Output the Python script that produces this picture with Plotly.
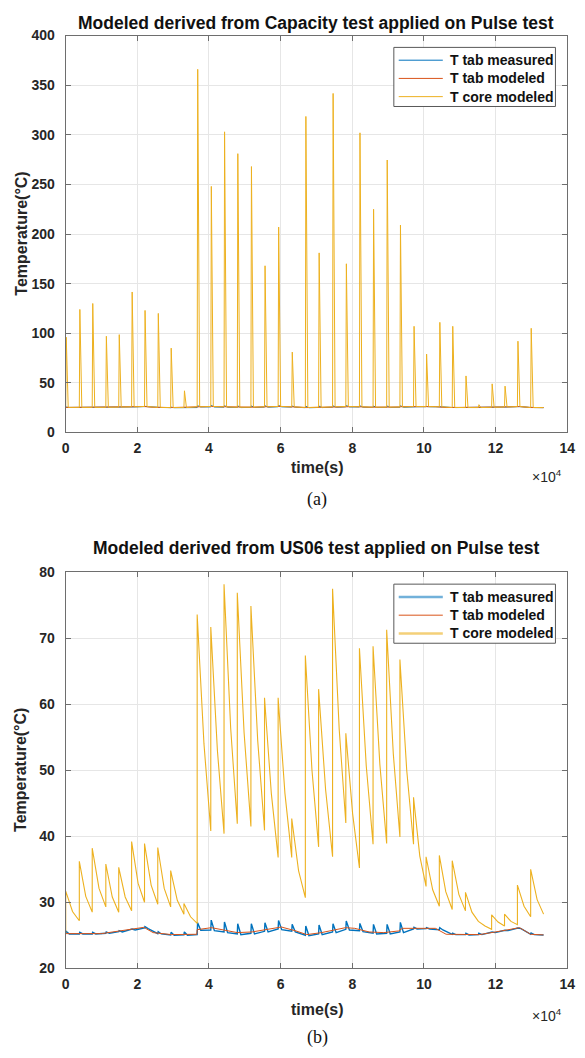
import plotly.graph_objects as go

# ---------------- data (time in units of 1e4 s) ----------------
PULSE_T = [0.00, 0.38, 0.74, 1.12, 1.48, 1.84, 2.20, 2.57, 2.93, 3.30,
           3.67, 4.05, 4.42, 4.79, 5.17, 5.55, 5.93, 6.31, 6.69, 7.06,
           7.45, 7.82, 8.20, 8.58, 8.96, 9.33, 9.71, 10.06, 10.43, 10.79,
           11.16, 11.52, 11.89, 12.25, 12.61, 12.98]
T_END = 13.34

# (a) core temperature, model from capacity test: spike peaks and base level
TOP_CORE_PEAK = [96, 124, 130, 97, 98.6, 141.6, 123, 120, 85, 42,
                 366, 248, 303, 281, 268, 168, 207, 81, 318.5, 181,
                 341.7, 170, 302, 225, 274.6, 209, 107, 79, 111, 107,
                 57, 28, 49, 46.7, 92, 105]
TOP_CORE_BASE = [25.3, 25.3, 25.3, 25.4, 25.6, 25.9, 26.2, 25.3, 25.1, 25.1,
                 25.9, 26.2, 25.8, 25.4, 25.5, 25.9, 26.2, 25.8, 25.2, 25.4,
                 25.8, 26.2, 25.9, 25.5, 25.5, 25.7, 26.1, 26.1, 25.9, 25.2,
                 25.1, 25.1, 25.4, 25.7, 26.1, 25.2, 25.1]

# (b) core temperature, model from US06 test: start, peak, mid-decay, end-of-cycle values
BOT_CORE_START = 25.3
BOT_CORE_PEAK = [31.7, 36.2, 38.2, 35.8, 35.3, 39.2, 38.9, 38.3, 34.8, 29.8,
                 73.6, 71.7, 78.2, 76.9, 74.9, 61.0, 61.0, 42.7, 67.4, 62.3,
                 77.5, 55.6, 68.5, 68.8, 71.3, 66.8, 45.9, 36.9, 37.1, 36.3,
                 31.5, 27.1, 28.1, 28.2, 32.6, 35.0]
BOT_CORE_MID = [28.6, 30.9, 32.1, 30.8, 30.8, 32.9, 32.6, 32.1, 30.3, 27.8,
                54.0, 53.0, 56.4, 55.7, 54.5, 46.5, 46.5, 34.8, 50.0, 47.1,
                56.2, 43.4, 50.7, 50.9, 52.5, 50.0, 37.0, 31.9, 31.6, 31.2,
                28.5, 26.4, 27.0, 27.1, 29.4, 30.4]
BOT_CORE_END = [27.2, 28.5, 29.3, 28.5, 28.7, 30.0, 29.7, 29.3, 28.2, 26.8,
                40.8, 40.4, 41.9, 41.5, 40.9, 36.8, 36.8, 30.7, 38.4, 36.9,
                42.0, 35.2, 38.8, 38.9, 39.9, 38.8, 32.4, 29.4, 28.9, 28.7,
                27.1, 25.9, 26.4, 26.6, 27.8, 28.2]

# tab temperature, modeled (knots)
TAB_MOD_T = [0, 1.0, 1.5, 1.8, 2.18, 2.44, 2.95, 3.66, 3.67, 4.07, 4.38, 4.79,
             5.2, 5.6, 6.02, 6.43, 6.73, 7.14, 7.45, 7.81, 8.07, 8.47, 8.88,
             9.29, 9.4, 10.32, 10.62, 11.55, 12.16, 12.57, 12.67, 12.98, 13.34]
TAB_MOD = [25.25, 25.25, 25.65, 25.9, 26.2, 25.4, 25.1, 25.15, 25.85, 26.15, 25.8, 25.4,
           25.5, 25.9, 26.25, 25.65, 25.1, 25.4, 25.75, 26.15, 26.05, 25.5, 25.4,
           25.65, 26.05, 26.05, 25.15, 25.1, 25.65, 26.0, 26.15, 25.15, 25.05]

# tab temperature, measured: level before each pulse, spike peak, level after spike
TAB_MEAS_PRE = [25.3, 25.2, 25.2, 25.3, 25.55, 25.85, 26.1, 25.25, 25.05, 25.05,
                25.1, 25.8, 25.5, 25.2, 25.3, 25.6, 25.95, 25.6, 25.0, 25.2,
                25.5, 25.9, 25.7, 25.3, 25.3, 25.5, 25.95, 26.0, 25.85, 25.15,
                25.1, 25.1, 25.4, 25.7, 26.05, 25.15, 25.05]
TAB_MEAS_SPIKE = [25.6, 25.45, 25.45, 25.5, 25.7, 25.95, 26.3, 25.55, 25.45, 25.5,
                  26.9, 27.3, 27.0, 26.75, 26.75, 26.9, 27.25, 26.65, 26.4, 26.55,
                  26.75, 27.15, 26.8, 26.65, 26.65, 26.95, 26.2, 26.15, 26.15, 25.3,
                  25.3, 25.3, 25.5, 25.75, 26.1, 25.35]
TAB_MEAS_LOW = [25.2, 25.2, 25.2, 25.3, 25.5, 25.8, 26.0, 25.2, 25.0, 25.0,
                25.75, 25.7, 25.4, 25.1, 25.2, 25.5, 25.85, 25.5, 24.95, 25.1,
                25.4, 25.8, 25.55, 25.2, 25.2, 25.4, 25.95, 25.95, 25.8, 25.1,
                25.05, 25.1, 25.4, 25.7, 26.0, 25.1]

X_TICKS = [0, 2, 4, 6, 8, 10, 12, 14]
TOP_Y_TICKS = [0, 50, 100, 150, 200, 250, 300, 350, 400]
BOT_Y_TICKS = [20, 30, 40, 50, 60, 70, 80]

NAMES = ["T tab measured", "T tab modeled", "T core modeled"]
TITLES = ["Modeled derived from Capacity test applied on Pulse test",
          "Modeled derived from US06 test applied on Pulse test"]
CAPTIONS = ["(a)", "(b)"]

# ---------------- build polylines ----------------
def next_t(k):
    return PULSE_T[k + 1] if k + 1 < len(PULSE_T) else T_END

def top_core():
    xs, ys = [], []
    for k, t in enumerate(PULSE_T):
        xs += [t, t + 0.015, t + 0.07, next_t(k)]
        ys += [TOP_CORE_BASE[k], TOP_CORE_PEAK[k], TOP_CORE_BASE[k], TOP_CORE_BASE[k + 1]]
    return xs, ys

def bot_core():
    xs, ys = [0.0], [BOT_CORE_START]
    for k, t in enumerate(PULSE_T):
        tn = next_t(k)
        xs += [t, (t + tn) / 2, tn]
        ys += [BOT_CORE_PEAK[k], BOT_CORE_MID[k], BOT_CORE_END[k]]
    return xs, ys

def tab_meas():
    xs, ys = [], []
    for k, t in enumerate(PULSE_T):
        xs += [t, t + 0.012, t + 0.1]
        ys += [TAB_MEAS_PRE[k], TAB_MEAS_SPIKE[k], TAB_MEAS_LOW[k]]
    xs.append(T_END)
    ys.append(TAB_MEAS_PRE[-1])
    return xs, ys

BLUE = "#0072BD"
RED = "#D95319"
YEL = "#EDB120"
COLORS = [BLUE, RED, YEL]

fig = go.Figure()
mx, my = tab_meas()
tcx, tcy = top_core()
bcx, bcy = bot_core()

fig.add_trace(go.Scatter(x=mx, y=my, mode="lines", name=NAMES[0], line=dict(color=BLUE, width=1),
                         xaxis="x", yaxis="y"))
fig.add_trace(go.Scatter(x=TAB_MOD_T, y=TAB_MOD, mode="lines", name=NAMES[1], line=dict(color=RED, width=1),
                         xaxis="x", yaxis="y"))
fig.add_trace(go.Scatter(x=tcx, y=tcy, mode="lines", name=NAMES[2], line=dict(color=YEL, width=1),
                         xaxis="x", yaxis="y"))

fig.add_trace(go.Scatter(x=mx, y=my, mode="lines", name=NAMES[0], line=dict(color=BLUE, width=1.4),
                         xaxis="x2", yaxis="y2"))
fig.add_trace(go.Scatter(x=TAB_MOD_T, y=TAB_MOD, mode="lines", name=NAMES[1], line=dict(color=RED, width=1),
                         xaxis="x2", yaxis="y2"))
fig.add_trace(go.Scatter(x=bcx, y=bcy, mode="lines", name=NAMES[2], line=dict(color=YEL, width=1.1),
                         xaxis="x2", yaxis="y2"))

W, H = 585, 1058
X0, X1 = 63, 575
TOP = (28, 431)
BOT = (573, 975)

def px(x):
    return x / W

def py(y):
    return 1 - y / H

FONT = "Liberation Sans, Arial, Helvetica, sans-serif"
AXCOL = "#6e6e6e"
TXT = "#262626"

def bold(v):
    return "<b>%s</b>" % v

def xaxis(anchor):
    return dict(domain=[px(X0), px(X1)], range=[0, 14], tickvals=X_TICKS,
                ticktext=[bold(v) for v in X_TICKS], anchor=anchor,
                ticks="inside", ticklen=5, tickcolor=AXCOL, showline=True, linecolor=AXCOL,
                linewidth=1, mirror="ticks", showgrid=True, gridcolor="#e6e6e6", zeroline=False,
                ticklabelstandoff=3,
                tickfont=dict(family=FONT, size=14, color=TXT))

def yaxis(anchor, dom, rng, ticks):
    return dict(domain=[py(dom[1]), py(dom[0])], range=rng, tickvals=ticks,
                ticktext=[bold(v) for v in ticks], anchor=anchor,
                ticks="inside", ticklen=5, tickcolor=AXCOL, showline=True, linecolor=AXCOL,
                linewidth=1, mirror="ticks", showgrid=True, gridcolor="#e6e6e6", zeroline=False,
                ticklabelstandoff=7,
                tickfont=dict(family=FONT, size=14, color=TXT))

ann, shapes = [], []

# manual legends (box x 398-563)
LEG_WIDTHS = [[1, 1, 1], [2.5, 1, 2.5]]
LEG_OPAC = [[1, 1, 1], [0.55, 1, 0.6]]
for li, top in enumerate([40, 585]):
    shapes.append(dict(type="rect", xref="paper", yref="paper", x0=px(398), x1=px(563),
                       y0=py(top + 60), y1=py(top), line=dict(color="#595959", width=1),
                       fillcolor="white", layer="above"))
    for i, name in enumerate(NAMES):
        yy = top + 13 + i * 18.5
        shapes.append(dict(type="line", xref="paper", yref="paper", x0=px(403), x1=px(448),
                           y0=py(yy), y1=py(yy), opacity=LEG_OPAC[li][i],
                           line=dict(color=COLORS[i], width=LEG_WIDTHS[li][i]),
                           layer="above"))
        ann.append(dict(text=bold(name), x=px(453), y=py(yy), xref="paper", yref="paper",
                        showarrow=False, xanchor="left", yanchor="middle",
                        font=dict(family=FONT, size=14, color="#111111")))

TITLE_Y = [15, 548]
TIME_Y = [467, 1017]
EXP_Y = [475, 1022]
CAP_Y = [499, 1045]
for i, dom in enumerate([TOP, BOT]):
    ann.append(dict(text=bold(TITLES[i]), x=px((X0 + X1) / 2), y=py(TITLE_Y[i]), xref="paper", yref="paper",
                    showarrow=False, xanchor="center", yanchor="middle",
                    font=dict(family=FONT, size=17.5, color="#111111")))
    ann.append(dict(text=bold("Temperature(°C)"), x=px(17), y=py((dom[0] + dom[1]) / 2),
                    xref="paper", yref="paper",
                    showarrow=False, textangle=-90, xanchor="center", yanchor="middle",
                    font=dict(family=FONT, size=16, color=TXT)))
    ann.append(dict(text=bold("time(s)"), x=px(320), y=py(TIME_Y[i]), xref="paper", yref="paper",
                    showarrow=False, xanchor="center", yanchor="middle",
                    font=dict(family=FONT, size=16, color=TXT)))
    ann.append(dict(text="×10<sup>4</sup>", x=px(554), y=py(EXP_Y[i]), xref="paper", yref="paper",
                    showarrow=False, xanchor="center", yanchor="middle",
                    font=dict(family=FONT, size=14, color=TXT)))
    ann.append(dict(text=CAPTIONS[i], x=px(320), y=py(CAP_Y[i]), xref="paper", yref="paper",
                    showarrow=False, xanchor="center", yanchor="middle",
                    font=dict(family="Liberation Serif, Times New Roman, serif", size=18, color="#111111")))

fig.update_layout(
    width=W, height=H, margin=dict(l=0, r=0, t=0, b=0),
    paper_bgcolor="white", plot_bgcolor="white",
    xaxis=xaxis("y"), yaxis=yaxis("x", TOP, [0, 400], TOP_Y_TICKS),
    xaxis2=xaxis("y2"), yaxis2=yaxis("x2", BOT, [20, 80], BOT_Y_TICKS),
    annotations=ann, shapes=shapes, showlegend=False,
)

fig.write_html("out.html")
